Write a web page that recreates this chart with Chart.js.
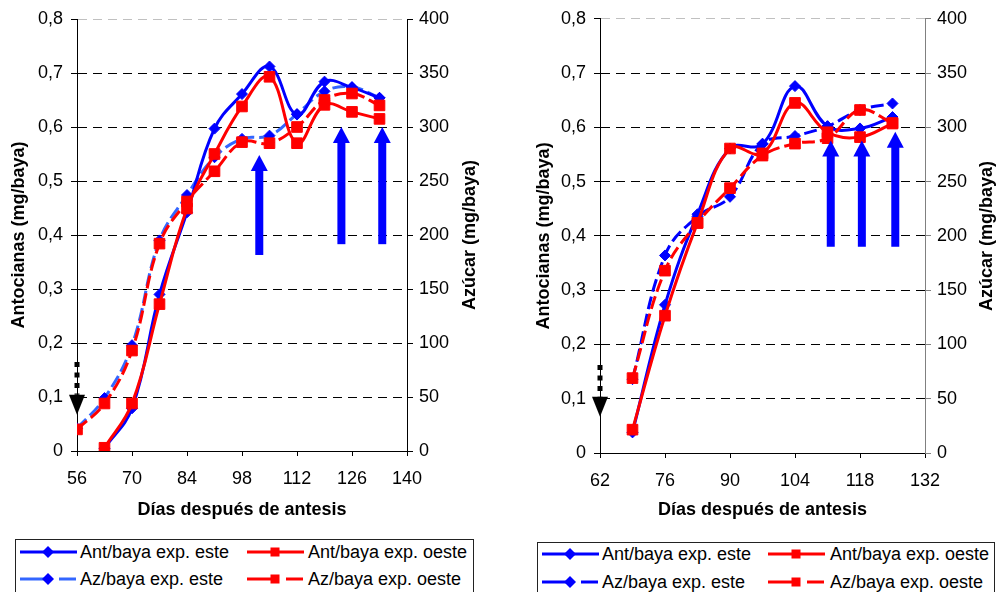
<!DOCTYPE html>
<html>
<head>
<meta charset="utf-8">
<script src="https://cdn.jsdelivr.net/npm/chart.js@4/dist/chart.umd.min.js"></script>
<style>
  body { margin: 0; background: #fff; width: 996px; height: 592px; overflow: hidden; position: relative;
         font-family: "Liberation Sans", Arial, sans-serif; }
  canvas { position: absolute; top: 0; }
  #izq { left: 0; }
  #der { left: 500px; }
  .box { position: absolute; border: 1px solid #222; height: 70px; }
  .txt { position: absolute; font-size: 18px; line-height: 20px; color: #000; white-space: nowrap; }
  .smp { position: absolute; }
</style>
</head>
<body>
<canvas id="izq" width="500" height="525"></canvas>
<canvas id="der" width="496" height="525"></canvas>
<div id="leyendas"></div>
<script>
const labels = ['Ant/baya exp. este', 'Ant/baya exp. oeste', 'Az/baya exp. este', 'Az/baya exp. oeste'];

// grafico izquierdo
const daysL = [56, 63, 70, 77, 84, 91, 98, 105, 112, 119, 126, 133];
const antEsteL = [null, 0.005, 0.079, 0.29, 0.442, 0.597, 0.661, 0.712, 0.623, 0.684, 0.673, 0.654];
const antOesteL = [null, 0.006, 0.088, 0.272, 0.449, 0.55, 0.638, 0.693, 0.57, 0.641, 0.628, 0.615];
const azEsteL = [21, 49, 98, 195, 237, 272, 289, 292, 312, 333, 337, 327];
const azOesteL = [20, 44, 93, 192, 231, 259, 286, 285, 300, 325, 331, 320];
const arrowDaysL = [102.4, 123.3, 133.7];
const arrowTailL = [0.363, 0.383, 0.383];
const arrowTipL = [0.548, 0.6, 0.6];

// grafico derecho
const daysR = [69, 76, 83, 90, 97, 104, 111, 118, 125];
const antEsteR = [0.038, 0.273, 0.44, 0.561, 0.569, 0.676, 0.602, 0.598, 0.619];
const antOesteR = [0.043, 0.253, 0.424, 0.561, 0.552, 0.645, 0.591, 0.582, 0.607];
const azEsteR = [68, 182, 218, 236, 285, 292, 301, 316, 322];
const azOesteR = [69, 168, 212, 244, 274, 285, 290, 316, 304];
const arrowDaysR = [111.7, 118.4, 125.6];
const arrowTailR = [0.38, 0.38, 0.38];
const arrowTipR = [0.576, 0.576, 0.592];

const blue = '#0000ff', lightBlue = '#3366ff', red = '#ff0000';
const fam = '"Liberation Sans", Arial, sans-serif';
Chart.defaults.font.family = fam;
Chart.defaults.color = '#000';

function pts(days, vals) {
  return days.map((d, i) => ({ x: d, y: vals[i] }));
}

// flechas azules, flecha negra punteada y titulo del eje derecho
const arrowPlugin = {
  id: 'flechas',
  afterDatasetsDraw(chart, args, opts) {
    const { ctx, scales: { x, y }, chartArea } = chart;
    ctx.save();
    ctx.fillStyle = blue;
    opts.days.forEach((d, i) => {
      const px = x.getPixelForValue(d);
      const tail = y.getPixelForValue(opts.tail[i]);
      const tip = y.getPixelForValue(opts.tip[i]);
      ctx.fillRect(px - 4, tip + 15, 8, tail - tip - 15);
      ctx.beginPath();
      ctx.moveTo(px, tip);
      ctx.lineTo(px + 8.5, tip + 16);
      ctx.lineTo(px - 8.5, tip + 16);
      ctx.closePath();
      ctx.fill();
    });

    const bx = x.getPixelForValue(opts.black.day);
    const btip = y.getPixelForValue(opts.black.tip);
    const btop = y.getPixelForValue(opts.black.from);
    ctx.strokeStyle = '#000';
    ctx.lineWidth = 5;
    ctx.setLineDash([5, 5.5]);
    ctx.beginPath();
    ctx.moveTo(bx, btop);
    ctx.lineTo(bx, btip - 20);
    ctx.stroke();
    ctx.setLineDash([]);
    ctx.fillStyle = '#000';
    ctx.beginPath();
    ctx.moveTo(bx - 8, btip - 20);
    ctx.lineTo(bx + 8, btip - 20);
    ctx.lineTo(bx, btip);
    ctx.closePath();
    ctx.fill();

    ctx.translate(opts.rightTitleX, (chartArea.top + chartArea.bottom) / 2);
    ctx.rotate(-Math.PI / 2);
    ctx.font = 'bold 18px ' + fam;
    ctx.textAlign = 'center';
    ctx.textBaseline = 'middle';
    ctx.fillText('Azúcar (mg/baya)', 0, 0);
    ctx.restore();
  }
};

function makeChart(id, o) {
  return new Chart(document.getElementById(id), {
    type: 'line',
    data: {
      datasets: [
        { label: labels[0], data: pts(o.days, o.antEste), yAxisID: 'y', order: 3,
          borderColor: blue, backgroundColor: blue, borderWidth: 3,
          pointStyle: 'rectRot', pointRadius: 5.5, pointBorderWidth: 1 },
        { label: labels[1], data: pts(o.days, o.antOeste), yAxisID: 'y', order: 1,
          borderColor: red, backgroundColor: red, borderWidth: 3,
          pointStyle: 'rect', pointRadius: 7.5, pointBorderWidth: 1 },
        { label: labels[2], data: pts(o.days, o.azEste), yAxisID: 'y2', order: 4,
          borderColor: o.azColor, backgroundColor: blue, pointBorderColor: blue, borderWidth: 3,
          borderDash: [13, 5], pointStyle: 'rectRot', pointRadius: 5.5, pointBorderWidth: 1 },
        { label: labels[3], data: pts(o.days, o.azOeste), yAxisID: 'y2', order: 2,
          borderColor: red, backgroundColor: red, borderWidth: 3,
          borderDash: [13, 5], pointStyle: 'rect', pointRadius: 7.5, pointBorderWidth: 1 }
      ]
    },
    options: {
      responsive: false,
      animation: false,
      devicePixelRatio: 1,
      layout: { padding: { top: o.top, left: 0, right: 0, bottom: 0 } },
      elements: { line: { tension: 0.4 } },
      plugins: {
        legend: { display: false },
        tooltip: { enabled: false },
        flechas: { days: o.arrowDays, tail: o.arrowTail, tip: o.arrowTip, black: o.black,
                   rightTitleX: o.rightTitleX }
      },
      scales: {
        x: {
          type: 'linear', min: o.xmin, max: o.xmax,
          ticks: { stepSize: 14, autoSkip: false, maxRotation: 0, padding: 12, font: { size: 18 } },
          grid: { drawOnChartArea: false, tickLength: 5, color: '#000' },
          border: { color: '#000', width: 1 },
          title: { display: true, text: 'Días después de antesis', font: { size: 18, weight: 'bold' },
                   padding: { top: 0, bottom: 4 } },
          afterFit: s => { s.height = o.xh; }
        },
        y: {
          position: 'left', min: 0, max: 0.8,
          ticks: { stepSize: 0.1, padding: 8, font: { size: 18 },
                   callback: v => v === 0 ? '0' : v.toFixed(1).replace('.', ',') },
          grid: { color: c => (c.tick && Math.abs(c.tick.value - 0.8) < 1e-6) ? '#c0c0c0' : '#000',
                  tickColor: '#000', tickLength: 6, tickBorderDash: [] },
          border: { color: '#000', width: 1, dash: [9, 6] },
          title: { display: true, text: 'Antocianas (mg/baya)', font: { size: 18, weight: 'bold' },
                   padding: { top: o.leftTitlePad } },
          afterFit: s => { s.width = o.yl; }
        },
        y2: {
          position: 'right', min: 0, max: 400,
          ticks: { stepSize: 50, padding: 6, font: { size: 18 } },
          grid: { drawOnChartArea: false, tickLength: 6, color: o.rightBorder },
          border: { color: o.rightBorder, width: 1 },
          afterFit: s => { s.width = o.yr; }
        }
      }
    },
    plugins: [arrowPlugin]
  });
}

makeChart('izq', {
  days: daysL, antEste: antEsteL, antOeste: antOesteL, azEste: azEsteL, azOeste: azOesteL,
  azColor: lightBlue, xmin: 56, xmax: 140, top: 19, xh: 74, yl: 77, yr: 93,
  leftTitlePad: 8, rightTitleX: 470, rightBorder: '#000',
  arrowDays: arrowDaysL, arrowTail: arrowTailL, arrowTip: arrowTipL,
  black: { day: 56, from: 0.165, tip: 0.067 }
});

makeChart('der', {
  days: daysR, antEste: antEsteR, antOeste: antOesteR, azEste: azEsteR, azOeste: azOesteR,
  azColor: blue, xmin: 62, xmax: 132, top: 18, xh: 72, yl: 100, yr: 71,
  leftTitlePad: 33, rightTitleX: 487, rightBorder: '#808080',
  arrowDays: arrowDaysR, arrowTail: arrowTailR, arrowTip: arrowTipR,
  black: { day: 62, from: 0.162, tip: 0.067 }
});

// leyendas (HTML)
function sample(color, lineColor, marker, dashed) {
  const m = marker === 'diamond'
    ? `<polygon points="28,2 34,8 28,14 22,8" fill="${color}"/>`
    : `<rect x="23.5" y="3.5" width="9" height="9" fill="${color}"/>`;
  const ln = dashed
    ? `<line x1="0" y1="8" x2="28" y2="8" stroke="${lineColor}" stroke-width="3"/>` +
      `<line x1="39" y1="8" x2="56" y2="8" stroke="${lineColor}" stroke-width="3"/>`
    : `<line x1="0" y1="8" x2="57" y2="8" stroke="${lineColor}" stroke-width="3"/>`;
  return `<svg width="58" height="16">${ln}${m}</svg>`;
}

function legend(box, sx, tx, rows, azColor) {
  const host = document.getElementById('leyendas');
  const b = document.createElement('div');
  b.className = 'box';
  b.style.left = box[0] + 'px'; b.style.top = box[1] + 'px'; b.style.width = box[2] + 'px';
  host.appendChild(b);
  const specs = [
    [blue, blue, 'diamond', false],
    [red, red, 'square', false],
    [blue, azColor, 'diamond', true],
    [red, red, 'square', true]
  ];
  labels.forEach((lab, i) => {
    const c = i % 2, r = Math.floor(i / 2);
    const s = document.createElement('div');
    s.className = 'smp';
    s.style.left = sx[c] + 'px'; s.style.top = (rows[r] - 8) + 'px';
    s.innerHTML = sample(...specs[i]);
    host.appendChild(s);
    const t = document.createElement('div');
    t.className = 'txt';
    t.style.left = tx[c] + 'px'; t.style.top = (rows[r] - 10) + 'px';
    t.textContent = lab;
    host.appendChild(t);
  });
}

legend([15, 539, 457], [20, 247], [80, 308], [552, 579], lightBlue);
legend([537, 542, 456], [542, 768], [602, 830], [554, 582], blue);
</script>
</body>
</html>
